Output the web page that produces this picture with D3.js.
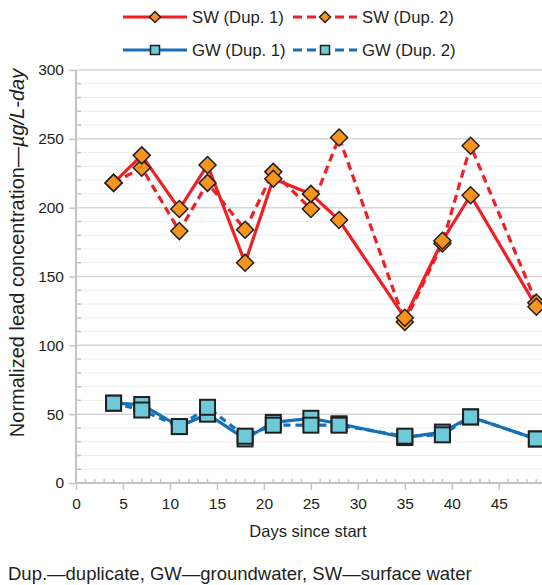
<!DOCTYPE html>
<html>
<head>
<meta charset="utf-8">
<script src="https://cdn.jsdelivr.net/npm/d3@7"></script>
<style>
  body { margin: 0; background: #fff; }
  svg { display: block; font-family: "Liberation Sans", Arial, sans-serif; }
</style>
</head>
<body>
<svg id="chart" width="542" height="585"></svg>
<script>
/* ── Data ─────────────────────────────────────────────────────────── */
const days = [4, 7, 11, 14, 18, 21, 25, 28, 35, 39, 42, 49];
const swDup1 = [218, 238, 199, 231, 160, 221, 210, 191, 120, 176, 209, 128];
const swDup2 = [218, 229, 183, 218, 184, 226, 199, 251, 117, 174, 245, 131];
const gwDup1 = [58, 57, 41, 50, 32, 44, 47, 43, 33, 37, 48, 32];
const gwDup2 = [58, 53, 41, 55, 34, 42, 42, 42, 34, 35, 48, 32];
const xTicks = [0, 5, 10, 15, 20, 25, 30, 35, 40, 45];
const yTicks = [0, 50, 100, 150, 200, 250, 300];

const RED = '#ee2026', ORANGE = '#f7941d', BLUE = '#1570b8', CYAN = '#6dcbd9', EDGE = '#231f20';

const svg = d3.select('#chart');
const x = d3.scaleLinear().domain([0, 49.6]).range([76, 542]);
const y = d3.scaleLinear().domain([0, 300]).range([483, 70]);

/* ── Grid ─────────────────────────────────────────────────────────── */
const minorVals = d3.range(10, 300, 10).filter(v => v % 50 !== 0);
const grid = svg.append('g');
grid.selectAll('line.minor')
  .data(minorVals)
  .join('line')
  .attr('x1', x(0)).attr('x2', 542)
  .attr('y1', d => y(d)).attr('y2', d => y(d))
  .attr('stroke', '#eeeeee').attr('stroke-width', 1);
grid.selectAll('line.major')
  .data(yTicks.slice(1))
  .join('line')
  .attr('x1', x(0)).attr('x2', 542)
  .attr('y1', d => y(d)).attr('y2', d => y(d))
  .attr('stroke', '#d6d6d6').attr('stroke-width', 1.5);

/* ── Axes ─────────────────────────────────────────────────────────── */
const axisColor = '#c4c4c4';
const yAxis = svg.append('g').attr('transform', 'translate(' + x(0) + ',0)')
  .call(d3.axisLeft(y).tickValues(yTicks).tickSize(7).tickPadding(5));
const xAxis = svg.append('g').attr('transform', 'translate(0,' + y(0) + ')')
  .call(d3.axisBottom(x).tickValues(xTicks).tickSize(7).tickPadding(8));
[yAxis, xAxis].forEach(a => {
  a.select('.domain').attr('stroke', axisColor).attr('stroke-width', 2);
  a.selectAll('.tick line').attr('stroke', axisColor).attr('stroke-width', 1.5);
  a.selectAll('.tick text').attr('fill', '#231f20')
    .style('font-size', '15.5px').style('font-family', '"Liberation Sans", Arial, sans-serif');
});
xAxis.select('.domain').attr('d', 'M' + x(0) + ',0H542');
yAxis.select('.domain').attr('d', 'M0,' + y(0) + 'V' + y(300));

// minor ticks
svg.append('g').selectAll('line')
  .data(minorVals)
  .join('line')
  .attr('x1', x(0)).attr('x2', x(0) + 5)
  .attr('y1', d => y(d)).attr('y2', d => y(d))
  .attr('stroke', axisColor).attr('stroke-width', 1.5);
svg.append('g').selectAll('line')
  .data(d3.range(1, 50).filter(v => v % 5 !== 0))
  .join('line')
  .attr('x1', d => x(d)).attr('x2', d => x(d))
  .attr('y1', y(0)).attr('y2', y(0) - 4)
  .attr('stroke', axisColor).attr('stroke-width', 1.5);

/* ── Titles ───────────────────────────────────────────────────────── */
svg.append('text')
  .attr('x', 308).attr('y', 537)
  .attr('text-anchor', 'middle').attr('fill', '#231f20')
  .style('font-size', '16.5px')
  .text('Days since start');

const yTitle = svg.append('text')
  .attr('transform', 'translate(24,' + 253 + ') rotate(-90)')
  .attr('text-anchor', 'middle').attr('fill', '#231f20')
  .style('font-size', '20px');
yTitle.append('tspan').text('Normalized lead concentration—');
yTitle.append('tspan').style('font-style', 'italic').text('µg/L-day');

svg.append('text')
  .attr('x', 8).attr('y', 580)
  .attr('fill', '#231f20')
  .style('font-size', '18.5px')
  .text('Dup.—duplicate, GW—groundwater, SW—surface water');

/* ── Series ───────────────────────────────────────────────────────── */
const series = [
  { name: 'GW (Dup. 1)', values: gwDup1, color: BLUE, dash: null, marker: 'square' },
  { name: 'GW (Dup. 2)', values: gwDup2, color: BLUE, dash: '7,5', marker: 'square' },
  { name: 'SW (Dup. 2)', values: swDup2, color: RED, dash: '8,5', marker: 'diamond' },
  { name: 'SW (Dup. 1)', values: swDup1, color: RED, dash: null, marker: 'diamond' },
];

const line = d3.line().x(d => x(d[0])).y(d => y(d[1]));

function drawMarker(g, type, cx, cy, big) {
  if (type === 'diamond') {
    const s = big ? 8.5 : 5.5;
    g.append('path')
      .attr('d', 'M' + cx + ',' + (cy - s) + 'L' + (cx + s) + ',' + cy + 'L' + cx + ',' + (cy + s) + 'L' + (cx - s) + ',' + cy + 'Z')
      .attr('fill', ORANGE).attr('stroke', EDGE).attr('stroke-width', 1.5);
  } else {
    const s = big ? 7.5 : 4.5;
    g.append('rect')
      .attr('x', cx - s).attr('y', cy - s).attr('width', 2 * s).attr('height', 2 * s)
      .attr('fill', CYAN).attr('stroke', EDGE).attr('stroke-width', big ? 2 : 1.5);
  }
}

const plot = svg.append('g');
series.forEach(s => {
  const pts = days.map((d, i) => [d, s.values[i]]);
  plot.append('path')
    .datum(pts)
    .attr('fill', 'none')
    .attr('stroke', s.color)
    .attr('stroke-width', 3.2)
    .attr('stroke-dasharray', s.dash)
    .attr('d', line);
});
series.forEach(s => {
  const g = plot.append('g');
  days.forEach((d, i) => drawMarker(g, s.marker, x(d), y(s.values[i]), true));
});

/* ── Legend ───────────────────────────────────────────────────────── */
const legendItems = [
  { name: 'SW (Dup. 1)', color: RED, dash: null, marker: 'diamond', lx: 123, ly: 17 },
  { name: 'SW (Dup. 2)', color: RED, dash: '9,5', marker: 'diamond', lx: 293, ly: 17 },
  { name: 'GW (Dup. 1)', color: BLUE, dash: null, marker: 'square', lx: 123, ly: 50 },
  { name: 'GW (Dup. 2)', color: BLUE, dash: '9,5', marker: 'square', lx: 293, ly: 50 },
];
const legend = svg.append('g');
legendItems.forEach(it => {
  const g = legend.append('g');
  g.append('line')
    .attr('x1', it.lx).attr('x2', it.lx + 64)
    .attr('y1', it.ly).attr('y2', it.ly)
    .attr('stroke', it.color).attr('stroke-width', 3.2)
    .attr('stroke-dasharray', it.dash);
  drawMarker(g, it.marker, it.lx + 32, it.ly, false);
  g.append('text')
    .attr('x', it.lx + 69).attr('y', it.ly + 6)
    .attr('fill', '#231f20')
    .style('font-size', '16.7px')
    .text(it.name);
});
</script>
</body>
</html>
